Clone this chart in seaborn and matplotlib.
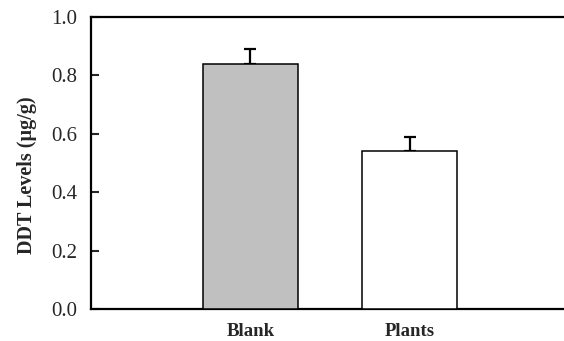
# Gráfico de barras: niveles de DDT (Blank vs Plants)
import matplotlib
matplotlib.use("Agg")
import matplotlib.pyplot as plt
import seaborn as sns
import pandas as pd

# Datos
grupos = ["Blank", "Plants"]
niveles = [0.84, 0.54]
errores = [0.05, 0.05]
colores = ["#c0c0c0", "#ffffff"]

df = pd.DataFrame({"grupo": grupos, "nivel": niveles})

sns.set_style("ticks")
plt.rcParams["font.family"] = ["Liberation Serif", "DejaVu Serif"]

fig = plt.figure(figsize=(5.64, 3.41), dpi=100)
ax = fig.add_axes([0.1613, 0.0938, 0.8476, 0.8562])

# Barras con seaborn
sns.barplot(data=df, x="grupo", y="nivel", hue="grupo", palette=colores,
            legend=False, width=0.6, edgecolor="black", linewidth=1.1,
            errorbar=None, ax=ax, zorder=3)

# Solo la barra de error superior
ax.errorbar(range(len(grupos)), niveles, yerr=[[0] * len(errores), errores],
            fmt="none", ecolor="black", elinewidth=1.6, capsize=4.5,
            capthick=1.6, zorder=2)

ax.set_xlim(-1, 2)
ax.set_ylim(0, 1.0)
ax.set_yticks([0.0, 0.2, 0.4, 0.6, 0.8, 1.0])
ax.set_yticklabels(["0.0", "0.2", "0.4", "0.6", "0.8", "1.0"], fontsize=15)
ax.set_xlabel("")
ax.set_ylabel("DDT Levels (µg/g)", fontsize=14.5, fontweight="bold")
# Posición de la etiqueta del eje y (un poco más abajo del centro)
ax.yaxis.set_label_coords(-0.113, 0.46)
ax.tick_params(axis="y", direction="in", length=6, width=1.5, pad=10)
ax.tick_params(axis="x", length=0, pad=10)
for etiqueta in ax.get_xticklabels():
    etiqueta.set_fontweight("bold")
    etiqueta.set_fontsize(13.5)

for lado in ["left", "bottom", "top", "right"]:
    ax.spines[lado].set_linewidth(1.6)
    ax.spines[lado].set_color("black")

fig.savefig("out.png", dpi=100)
